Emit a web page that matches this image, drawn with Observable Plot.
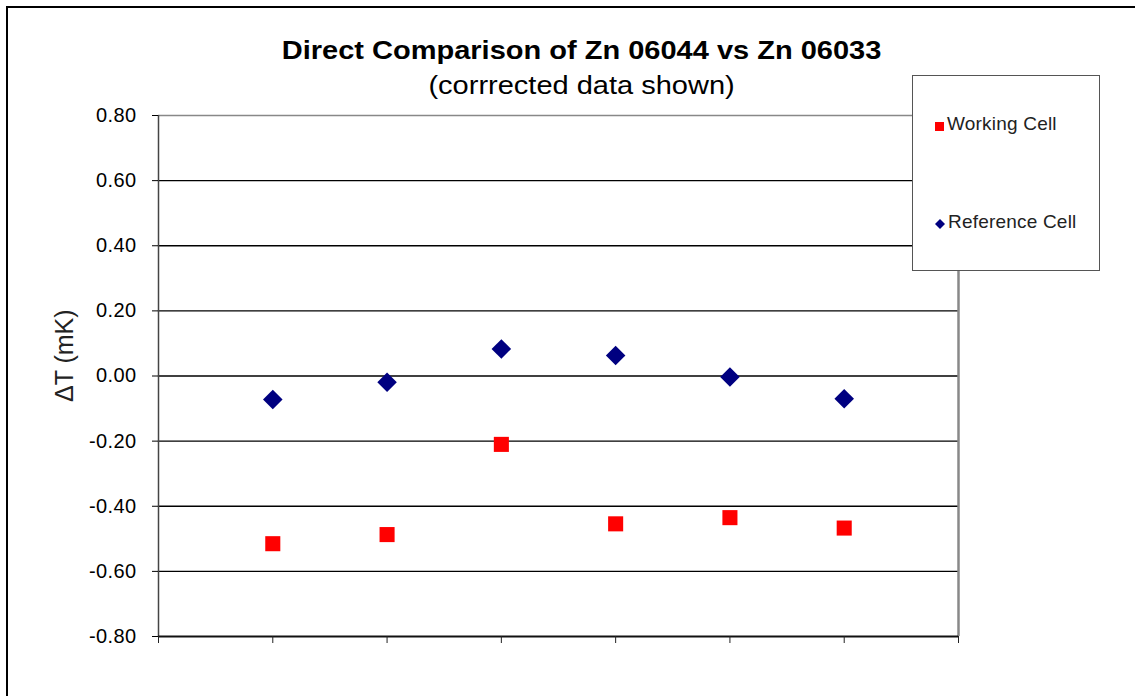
<!DOCTYPE html>
<html>
<head>
<meta charset="utf-8">
<script src="https://cdn.jsdelivr.net/npm/d3@7"></script>
<script src="https://cdn.jsdelivr.net/npm/@observablehq/plot@0.6"></script>
<style>
  html, body { margin: 0; padding: 0; background: #fff; overflow: hidden; }
  #wrap { position: relative; width: 1135px; height: 696px; font-family: "Liberation Sans", Arial, sans-serif; }
  #frame { position: absolute; left: 6px; top: 6px; width: 1300px; height: 900px; border-left: 2.5px solid #000; border-top: 2.5px solid #000; box-sizing: border-box; }
  #chart { position: absolute; left: 0; top: 0; }
  .title { position: absolute; left: 0; width: 1163px; text-align: center; color: #000; white-space: nowrap; transform: scaleX(1.16); transform-origin: 581px 0; }
  #t1 { top: 36px; font-size: 25px; font-weight: bold; }
  #t2 { top: 71px; font-size: 25px; }
  #legend { position: absolute; left: 912px; top: 75px; width: 188px; height: 196px; box-sizing: border-box; border: 1.5px solid #555; background: #fff; }
  .item { position: absolute; left: 22px; font-size: 19px; letter-spacing: 0.2px; color: #222; white-space: nowrap; }
  .item span.sym { display: inline-block; vertical-align: middle; margin-right: 3px; }
</style>
</head>
<body>
<div id="wrap">
  <div id="frame"></div>
  <div id="chart"></div>
  <div class="title" id="t1"></div>
  <div class="title" id="t2"></div>
  <div id="legend"></div>
</div>
<script>
const titleText = "Direct Comparison of Zn 06044 vs Zn 06033";
const subtitleText = "(corrrected data shown)";
const yLabel = "\u0394T (mK)";
const seriesNames = ["Working Cell", "Reference Cell"];
const runs = [1, 2, 3, 4, 5, 6];
const workingCell = [-0.515, -0.487, -0.210, -0.454, -0.435, -0.467];
const referenceCell = [-0.072, -0.019, 0.083, 0.063, -0.003, -0.070];
const yTicks = [-0.8, -0.6, -0.4, -0.2, 0, 0.2, 0.4, 0.6, 0.8];
const xTicks = [0, 1, 2, 3, 4, 5, 6, 7];
const gridLines = [-0.6, -0.4, -0.2, 0, 0.2, 0.4, 0.6];

document.getElementById("t1").textContent = titleText;
document.getElementById("t2").textContent = subtitleText;

const work = runs.map((r, i) => ({run: r, value: workingCell[i]}));
const ref = runs.map((r, i) => ({run: r, value: referenceCell[i]}));

const chart = Plot.plot({
  width: 1135,
  height: 696,
  marginTop: 115,
  marginRight: 177,
  marginBottom: 60,
  marginLeft: 158,
  style: {fontFamily: "Liberation Sans, Arial, sans-serif", background: "transparent"},
  x: {domain: [0, 7], axis: null},
  y: {domain: [-0.8, 0.8], axis: null},
  marks: [
    Plot.ruleY(gridLines, {stroke: "#000", strokeWidth: 1.3}),
    Plot.ruleY([0.8], {stroke: "#888", strokeWidth: 1.5}),
    Plot.ruleX([7], {stroke: "#888", strokeWidth: 2.5}),
    Plot.ruleX([0], {stroke: "#444", strokeWidth: 1.5}),
    Plot.ruleY([-0.8], {stroke: "#111", strokeWidth: 1.8}),
    Plot.axisY({
      ticks: yTicks,
      tickFormat: d => d.toFixed(2),
      tickSize: 6,
      tickPadding: 16,
      fontSize: 20,
      stroke: "#000",
      color: "#000",
      label: null
    }),
    Plot.axisX({
      ticks: xTicks,
      tickFormat: () => "",
      tickSize: 7,
      stroke: "#222",
      label: null
    }),
    Plot.text([yLabel], {
      text: d => d,
      frameAnchor: "left",
      rotate: -90,
      dx: -94,
      dy: 26,
      fontSize: 25,
      fill: "#222"
    }),
    Plot.dot(ref, {x: "run", y: "value", symbol: "diamond2", r: 8.8, fill: "#000080", stroke: "none"}),
    Plot.dot(work, {x: "run", y: "value", symbol: "square", r: 8.5, fill: "#ff0000", stroke: "none"})
  ]
});
chart.querySelectorAll("text").forEach(t => {
  if (/^-?\d\.\d\d$/.test(t.textContent)) t.style.letterSpacing = "0.4px";
});
document.getElementById("chart").appendChild(chart);

const legend = document.getElementById("legend");
const items = [
  {name: seriesNames[0], top: 37, sym: '<svg width="9" height="9"><rect x="0" y="0" width="9" height="9" fill="#ff0000"/></svg>'},
  {name: seriesNames[1], top: 135, sym: '<svg width="10" height="10"><path d="M5 0L10 5L5 10L0 5Z" fill="#000080"/></svg>'}
];
items.forEach(it => {
  const d = document.createElement("div");
  d.className = "item";
  d.style.top = it.top + "px";
  d.innerHTML = '<span class="sym">' + it.sym + '</span>' + it.name;
  legend.appendChild(d);
});
</script>
</body>
</html>
